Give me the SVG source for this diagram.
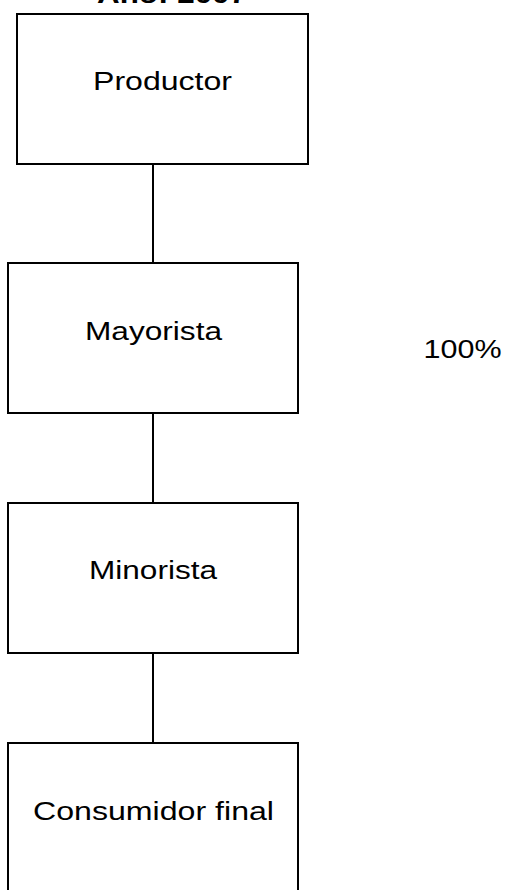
<svg xmlns="http://www.w3.org/2000/svg" width="505" height="890" viewBox="0 0 505 890">
<style>
.box{fill:#fff;stroke:#000;stroke-width:2}
.lbl{font-family:"Liberation Sans",Arial,sans-serif;font-size:26px;fill:#000;text-anchor:middle}
.conn{stroke:#000;stroke-width:2;fill:none}
</style>
<rect width="505" height="890" fill="#fff"/>
<text id="title" class="lbl" x="172" y="3" font-weight="bold" textLength="150" lengthAdjust="spacingAndGlyphs">Año: 2007</text>
<g id="connectors">
<line class="conn" x1="153" y1="164" x2="153" y2="263"/>
<line class="conn" x1="153" y1="413" x2="153" y2="503"/>
<line class="conn" x1="153" y1="653" x2="153" y2="743"/>
</g>
<g id="productor">
<rect class="box" x="17" y="14" width="291" height="150"/>
<text class="lbl" x="162.5" y="90" textLength="139" lengthAdjust="spacingAndGlyphs">Productor</text>
</g>
<g id="mayorista">
<rect class="box" x="8" y="263" width="290" height="150"/>
<text class="lbl" x="153.5" y="340" textLength="137" lengthAdjust="spacingAndGlyphs">Mayorista</text>
</g>
<g id="minorista">
<rect class="box" x="8" y="503" width="290" height="150"/>
<text class="lbl" x="153" y="579" textLength="128" lengthAdjust="spacingAndGlyphs">Minorista</text>
</g>
<g id="consumidor">
<rect class="box" x="8" y="743" width="290" height="160"/>
<text class="lbl" x="153.5" y="820" textLength="241" lengthAdjust="spacingAndGlyphs">Consumidor final</text>
</g>
<text id="pct" class="lbl" x="462.5" y="358" textLength="78" lengthAdjust="spacingAndGlyphs">100%</text>
</svg>
